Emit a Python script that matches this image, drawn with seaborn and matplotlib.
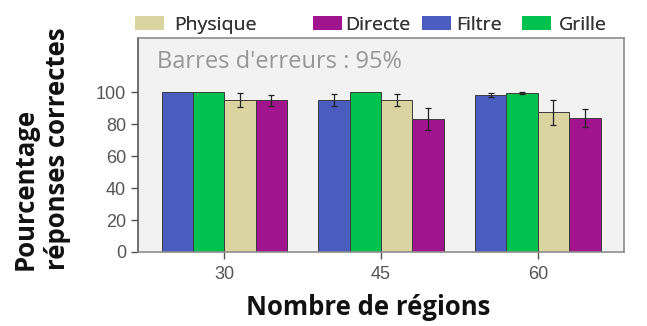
import matplotlib
matplotlib.use("Agg")
import matplotlib.pyplot as plt
from matplotlib.patches import Patch
import numpy as np
import pandas as pd
import seaborn as sns

# Number of regions (x categories)
regions = ["30", "45", "60"]

# Mean percentage of correct answers per technique
filtre = [100.0, 95.2, 98.3]
grille = [100.0, 100.0, 99.3]
physique = [95.2, 95.0, 87.6]
directe = [95.0, 83.2, 84.0]

# Half-width of the 95% confidence intervals
filtre_err = [0.0, 4.0, 1.0]
grille_err = [0.0, 0.0, 0.6]
physique_err = [4.4, 3.8, 7.8]
directe_err = [3.3, 6.8, 5.8]

methods = ["Filtre", "Grille", "Physique", "Directe"]
legend_order = ["Physique", "Directe", "Filtre", "Grille"]
colors = {
    "Filtre": "#4a5cbd",
    "Grille": "#00c24f",
    "Physique": "#dad4a1",
    "Directe": "#a0148e",
}

values = {"Filtre": filtre, "Grille": grille, "Physique": physique, "Directe": directe}
errors = {"Filtre": filtre_err, "Grille": grille_err,
          "Physique": physique_err, "Directe": directe_err}

rows = []
for m in methods:
    for r, v in zip(regions, values[m]):
        rows.append({"region": r, "method": m, "value": v})
df = pd.DataFrame(rows)

sns.set_style("ticks")
plt.rcParams["font.family"] = ["Liberation Sans", "DejaVu Sans"]

fig = plt.figure(figsize=(6.47, 3.26), dpi=100)
ax = fig.add_axes([0.2133, 0.227, 0.7512, 0.6564])
ax.set_facecolor("#f2f2f2")

sns.barplot(data=df, x="region", y="value", hue="method", hue_order=methods,
            order=regions, palette=colors, saturation=1, errorbar=None, width=0.8,
            edgecolor="#3a3a3a", linewidth=0.7, legend=False, ax=ax)

# Confidence intervals drawn at the centre of each bar
for container, m in zip(ax.containers, methods):
    for bar, err in zip(container, errors[m]):
        if err <= 0:
            continue
        xc = bar.get_x() + bar.get_width() / 2
        ax.errorbar(xc, bar.get_height(), yerr=err, fmt="none",
                    ecolor="#222222", elinewidth=0.9, capsize=2.5,
                    capthick=0.9, zorder=5)

ax.set_xlim(-0.55, 2.55)
ax.set_ylim(0, 134)
ax.set_yticks([0, 20, 40, 60, 80, 100])
ax.set_xlabel("")
ax.set_ylabel("")
ax.tick_params(axis="both", labelsize=13, colors="#555555", length=5, width=1)
ax.tick_params(axis="x", pad=5)
for s in ax.spines.values():
    s.set_visible(True)
    s.set_color("#8c8c8c")
    s.set_linewidth(1.2)
ax.spines["left"].set_color("#555555")

ax.text(0.039, 0.888, "Barres d'erreurs : 95%", transform=ax.transAxes,
        fontsize=17, color="#979797", family=["Open Sans", "DejaVu Sans"],
        fontweight="normal", ha="left", va="center")

# Axis titles
fig.text(0.5695, 0.058, "Nombre de régions", ha="center", va="center",
         fontsize=18.5, fontweight="bold", family=["Open Sans", "DejaVu Sans"],
         color="#111111")
fig.text(0.064, 0.172, "Pourcentage\nréponses correctes", rotation=90,
         ha="center", va="bottom", multialignment="left", linespacing=1.25,
         fontsize=18.5, fontweight="bold", family=["Open Sans", "DejaVu Sans"],
         color="#111111")

# Legend entries placed across the top
legend_x = {"Physique": 135, "Directe": 313, "Filtre": 422, "Grille": 522}
legend_pad = {"Physique": 0.5, "Directe": 0.15, "Filtre": 0.25, "Grille": 0.4}
for m in legend_order:
    lg = fig.legend(handles=[Patch(facecolor=colors[m], edgecolor="none", label=m)],
                    loc="center left", bbox_to_anchor=(legend_x[m] / 647, 0.923),
                    frameon=False, borderpad=0, borderaxespad=0,
                    handlelength=1.5, handleheight=0.72,
                    handletextpad=legend_pad[m],
                    prop={"family": ["Open Sans", "DejaVu Sans"], "size": 14})
    for t in lg.get_texts():
        t.set_color("#333333")
    fig.add_artist(lg)

fig.savefig("out.png", dpi=100, facecolor="white")
